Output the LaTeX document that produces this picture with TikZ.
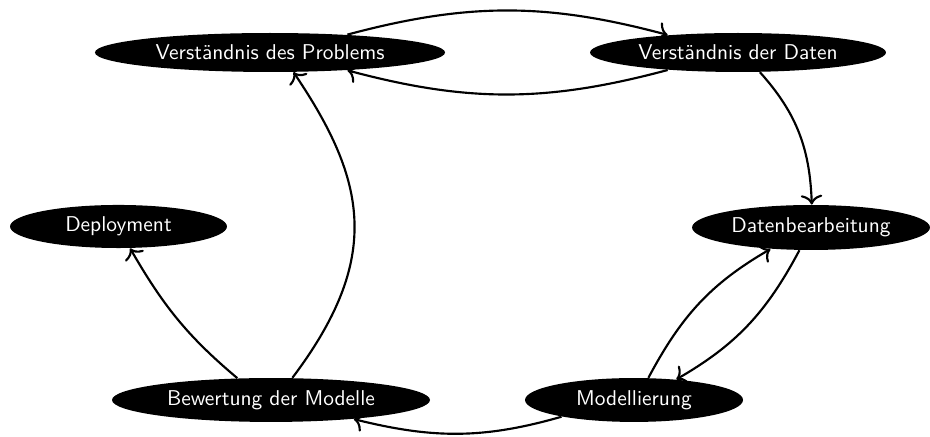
\documentclass[tikz,border=0pt]{standalone}
\usepackage{fontspec}
\usetikzlibrary{shapes.geometric,arrows.meta}
\begin{document}
\begin{tikzpicture}[x=0.467pt,y=0.467pt,
  phase/.style={ellipse, fill=black, text=white, font=\sffamily, inner sep=0pt},
  link/.style={line width=1pt, -{To[length=4.5pt,width=10pt]}}]
\useasboundingbox (0,0) rectangle (930,437);
\node[phase, minimum width=163.5pt, minimum height=18.2pt] (prob) at (270,384.5) {Verständnis des Problems};
\node[phase, minimum width=138.2pt, minimum height=18.2pt] (daten) at (738,384.5) {Verständnis der Daten};
\node[phase, minimum width=101.3pt, minimum height=20.1pt] (deploy) at (118.5,210.5) {Deployment};
\node[phase, minimum width=111.1pt, minimum height=21pt] (bearb) at (811,209.5) {Datenbearbeitung};
\node[phase, minimum width=148.5pt, minimum height=20.5pt] (bew) at (271,37) {Bewertung der Modelle};
\node[phase, minimum width=101.8pt, minimum height=20.5pt] (model) at (634,37) {Modellierung};
\draw[link] (prob.13.6) to[out=15,in=165] (daten.166);
\draw[link] (daten.194.5) to[out=195,in=-15] (prob.347.4);
\draw[link] (daten.318.7) to[out=-48,in=92] (bearb.88);
\draw[link] (model.57) to[out=62,in=210] (bearb.208.6);
\draw[link] (bearb.243.8) to[out=242,in=30] (model.26.4);
\draw[link] (model.193.2) to[out=196,in=346] (bew.347.5);
\draw[link] (bew.147.7) to[out=140,in=300] (deploy.298.3);
\draw[link] (bew.46) to[out=53,in=-56,out looseness=1.25,in looseness=1.1] (prob.320);
\end{tikzpicture}
\end{document}
